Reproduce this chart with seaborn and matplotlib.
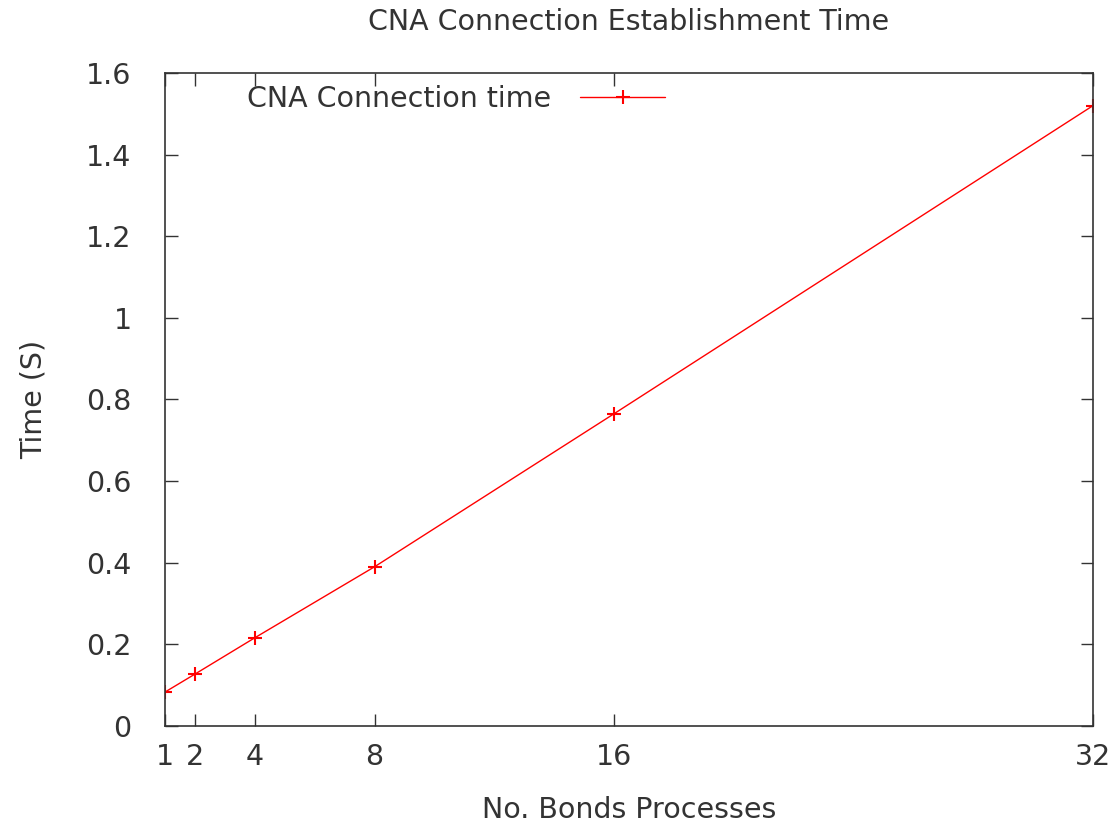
import matplotlib
matplotlib.use('Agg')
import matplotlib.pyplot as plt
import seaborn as sns
import pandas as pd

# ── Data ───────────────────────────────────────────────────────────────────
processes = [1, 2, 4, 8, 16, 32]
conn_time = [0.083, 0.127, 0.216, 0.39, 0.765, 1.52]
x_ticks = [1, 2, 4, 8, 16, 32]
y_ticks = [0, 0.2, 0.4, 0.6, 0.8, 1, 1.2, 1.4, 1.6]
y_tick_labels = ['0', '0.2', '0.4', '0.6', '0.8', '1', '1.2', '1.4', '1.6']

df = pd.DataFrame({'processes': processes, 'time': conn_time})

sns.set_style('white')
plt.rcParams['font.family'] = ['DejaVu Sans']

fig = plt.figure(figsize=(11.17, 8.24), dpi=100)
ax = fig.add_axes([0.1477, 0.119, 0.9785 - 0.1477, 0.9114 - 0.119])

sns.lineplot(data=df, x='processes', y='time', ax=ax, color='#ff0000',
             marker='+', markersize=10, markeredgewidth=1.5,
             markeredgecolor='#ff0000', linewidth=1.0,
             label='CNA Connection time')

ax.set_xlim(1, 32)
ax.set_ylim(0, 1.6)
ax.set_xticks(x_ticks)
ax.set_xticklabels([str(t) for t in x_ticks])
ax.set_yticks(y_ticks)
ax.set_yticklabels(y_tick_labels)

fs = 20.5
txt = '#333333'
ax.tick_params(direction='in', length=9, width=1, top=True, right=True,
               bottom=True, left=True, labelsize=fs, colors='#333333')
ax.tick_params(axis='y', pad=24)
ax.tick_params(axis='x', pad=12)
for sp in ax.spines.values():
    sp.set_color('#333333')
    sp.set_linewidth(1.2)

ax.set_title('CNA Connection Establishment Time', fontsize=fs, color=txt, pad=31)
ax.set_xlabel('No. Bonds Processes', fontsize=fs, color=txt, labelpad=18)
ax.set_ylabel('Time (S)', fontsize=fs, color=txt, labelpad=28)

leg = ax.legend(loc='upper left', frameon=False, markerfirst=False, fontsize=fs,
                handlelength=3.0, handletextpad=1.0,
                bbox_to_anchor=(0.061, 1.021), labelcolor=txt)

fig.savefig('out.png', dpi=100)
plt.close(fig)
